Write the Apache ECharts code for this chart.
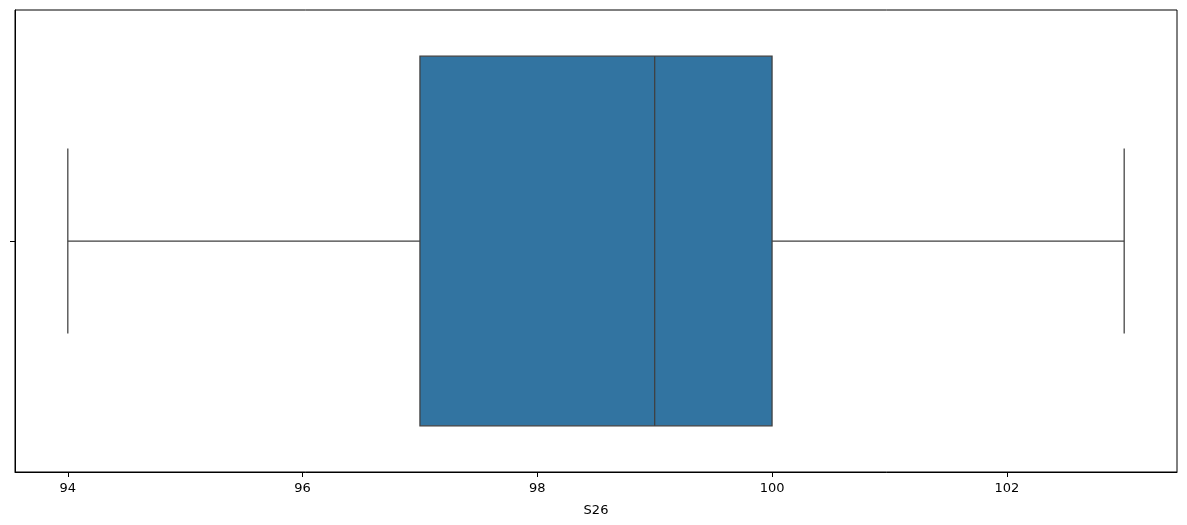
<!DOCTYPE html>
<html>
<head>
<meta charset="utf-8">
<script src="https://cdn.jsdelivr.net/npm/echarts@6/dist/echarts.min.js"></script>
<style>
html,body{margin:0;padding:0;background:#fff;}
#chart{width:1187px;height:525px;}
</style>
</head>
<body>
<div id="chart"></div>
<script>
const categories = [''];
const whiskerLow = [94];
const q1Values = [97];
const medianValues = [99];
const q3Values = [100];
const whiskerHigh = [103];
const xTickValues = [94, 96, 98, 100, 102];
const xName = 'S26';

const data = categories.map((c, i) => [i, whiskerLow[i], q1Values[i], medianValues[i], q3Values[i], whiskerHigh[i]]);

const chart = echarts.init(document.getElementById('chart'), null, {renderer: 'canvas'});
const lineColor = '#3f3f3f';
chart.setOption({
  animation: false,
  backgroundColor: '#ffffff',
  grid: {left: 15, right: 10, top: 10, bottom: 53, show: true, borderColor: '#000', borderWidth: 1, backgroundColor: 'transparent'},
  xAxis: {
    type: 'value', min: 93.55, max: 103.45,
    axisLine: {show: true, lineStyle: {color: '#000', width: 1}},
    axisTick: {show: true, length: 5, lineStyle: {color: '#000'}, customValues: xTickValues},
    axisLabel: {color: '#000', fontFamily: 'DejaVu Sans', fontSize: 13, margin: 10, customValues: xTickValues},
    splitLine: {show: false},
    name: xName, nameLocation: 'middle', nameGap: 32,
    nameTextStyle: {color: '#000', fontFamily: 'DejaVu Sans', fontSize: 13}
  },
  yAxis: {
    type: 'category', data: categories, inverse: true,
    axisLine: {show: true, lineStyle: {color: '#000', width: 1}},
    axisTick: {show: true, length: 5, alignWithLabel: true, lineStyle: {color: '#000'}},
    axisLabel: {show: false},
    splitLine: {show: false}
  },
  series: [{
    type: 'custom',
    data: data,
    encode: {x: [1, 2, 3, 4, 5], y: 0},
    renderItem: function (params, api) {
      const y = api.value(0);
      const pLo = api.coord([api.value(1), y]);
      const pQ1 = api.coord([api.value(2), y]);
      const pMed = api.coord([api.value(3), y]);
      const pQ3 = api.coord([api.value(4), y]);
      const pHi = api.coord([api.value(5), y]);
      const band = api.size([0, 1])[1];
      const h = band * 0.8;
      const cap = h / 2;
      const cy = pMed[1];
      const ls = {stroke: lineColor, lineWidth: 1.25};
      return {
        type: 'group',
        children: [
          {type: 'line', shape: {x1: pLo[0], y1: cy, x2: pQ1[0], y2: cy}, style: ls},
          {type: 'line', shape: {x1: pQ3[0], y1: cy, x2: pHi[0], y2: cy}, style: ls},
          {type: 'line', shape: {x1: pLo[0], y1: cy - cap / 2, x2: pLo[0], y2: cy + cap / 2}, style: ls},
          {type: 'line', shape: {x1: pHi[0], y1: cy - cap / 2, x2: pHi[0], y2: cy + cap / 2}, style: ls},
          {type: 'rect', shape: {x: pQ1[0], y: cy - h / 2, width: pQ3[0] - pQ1[0], height: h}, style: {fill: '#3274a1', stroke: lineColor, lineWidth: 1.25}},
          {type: 'line', shape: {x1: pMed[0], y1: cy - h / 2, x2: pMed[0], y2: cy + h / 2}, style: ls}
        ]
      };
    }
  }]
});
</script>
</body>
</html>
